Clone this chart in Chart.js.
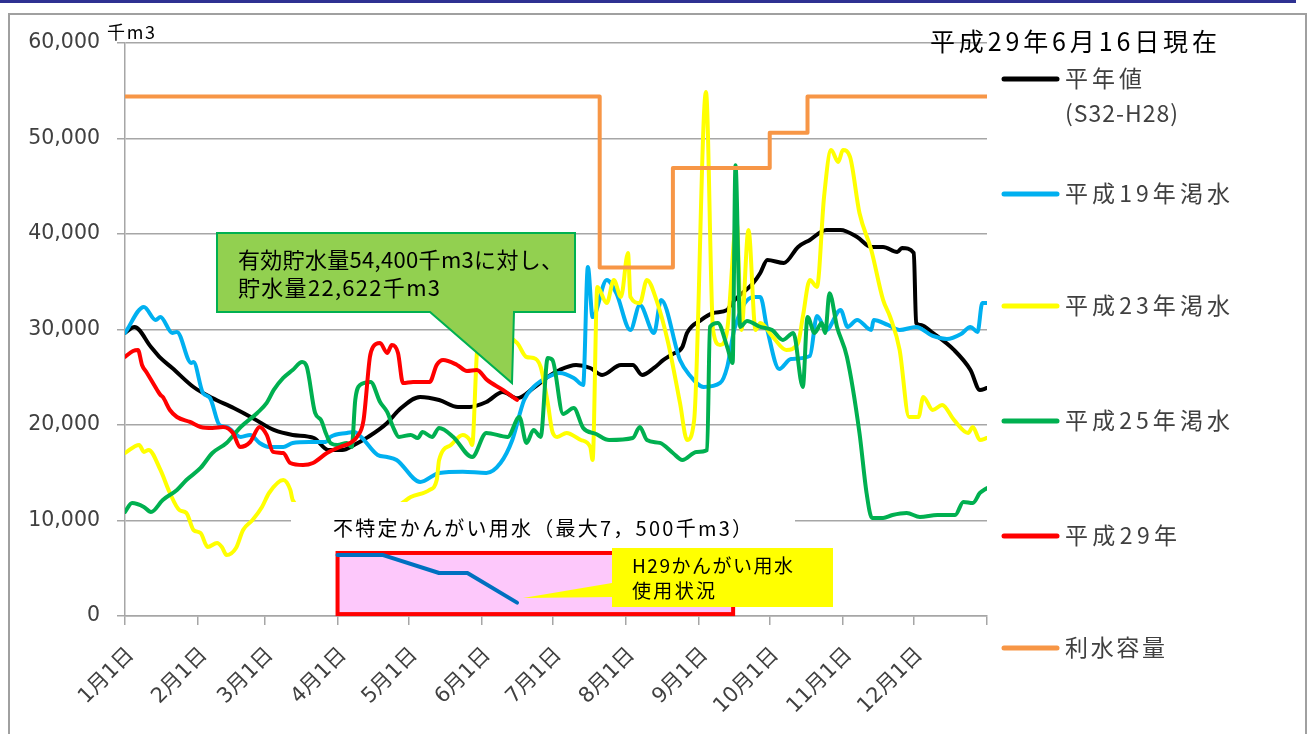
<!DOCTYPE html>
<html>
<head>
<meta charset="utf-8">
<script src="https://cdn.jsdelivr.net/npm/chart.js@4.4.1/dist/chart.umd.min.js"></script>
<style>
html, body { margin: 0; padding: 0; background: #fff; }
#chart { display: block; }
</style>
</head>
<body>
<canvas id="chart" width="1309" height="734"></canvas>
<script>
// x = day of year (0 = 1月1日), y = 千m3
const monthDays = [0, 31, 59, 90, 120, 151, 181, 212, 243, 273, 304, 334, 365];
const monthLabels = ['1月1日', '2月1日', '3月1日', '4月1日', '5月1日', '6月1日', '7月1日', '8月1日', '9月1日', '10月1日', '11月1日', '12月1日', ''];

const seriesNames = ['平年値', '平成19年渇水', '平成23年渇水', '平成25年渇水', '平成29年', '利水容量'];
const seriesColors = ['#000000', '#00b0f0', '#ffff00', '#00b050', '#ff0000', '#f79646'];

// 平年値 (S32-H28)
const avgDays = [0,4,11,15,20,29,37,46,54,63,71,80,86,92,97,103,111,116,125,133,141,146,153,160,166,173,179,184,191,197,202,210,215,219,224,228,232,236,238,244,249,255,257,266,269,272,279,285,290,297,303,310,316,321,327,329,334,335,337,342,351,358,362,365];
const avgVals = [29640,30270,28170,27020,25970,23980,22830,21780,20740,19480,18960,18640,17390,17390,17910,18750,20210,21570,22940,22620,21890,21890,22410,23460,22800,23880,25030,25760,26290,25970,25240,26290,26290,25240,25970,26810,27440,28170,29640,31000,31730,32050,32780,34870,35920,37280,36970,38650,39380,40430,40430,39690,38650,38650,38120,38540,38020,30690,30480,29640,27860,25760,23670,23880];

// 平成19年渇水
const h19Days = [0,8,13,15,20,22,28,29,33,36,40,43,49,53,57,61,67,71,78,85,87,94,97,100,107,111,115,125,133,143,153,159,164,169,173,179,184,190,194,196,198,204,208,214,218,224,227,235,239,245,252,255,258,266,269,272,277,282,290,293,297,303,306,310,316,317,323,328,335,342,348,354,358,361,363,365];
const h19Vals = [29640,32360,31000,31310,29640,29740,26500,26600,23350,22830,20000,19790,18750,18960,18120,17700,17700,18120,18220,18220,18750,19170,19270,18750,16860,16650,16340,14030,14980,15100,14980,16020,18430,22620,23980,25030,25450,24930,24190,36550,31300,35190,33830,29950,32570,29640,33100,26810,25240,23980,24400,26080,30000,33400,33410,29950,25870,26920,27230,31420,29950,32050,30270,31000,29950,31000,30480,29950,30270,29320,29010,29530,30270,29740,32780,32780];

// 平成23年渇水
const h23Days = [0,6,8,10,15,19,23,26,29,32,35,39,41,43,47,50,54,58,61,67,70,71,85,110,118,121,129,132,133,138,143,146,147,149,150,160,166,170,173,176,179,181,183,187,193,197,198,200,204,207,210,213,214,218,221,225,230,235,238,241,246,249,252,255,259,261,264,267,269,274,280,285,287,290,293,296,299,302,304,307,311,316,321,324,328,332,336,338,342,346,351,357,359,362,365];
const h23Vals = [17070,17910,17180,17390,15290,12880,11100,10790,9010,8690,7230,7650,7230,6390,7120,9010,10050,11420,12880,14240,13200,12150,10000,10500,11940,12460,13200,14240,16340,17910,18960,18430,17910,27540,29400,29400,28590,27120,27020,26080,22310,19270,18750,19170,18430,17700,16340,34460,32780,35190,33410,38020,33410,32780,35190,33100,28590,22310,18430,20530,54880,29950,28380,29950,41260,29950,40430,29950,30690,29320,27860,28590,31310,35190,34460,43880,48800,47550,48800,48070,42200,38330,33100,31310,27860,20840,20840,22940,21570,22100,20530,19170,19790,18430,18640];

// 平成25年渇水
const h25Days = [0,3,8,11,16,22,26,32,37,43,49,56,60,63,67,71,75,77,80.5,83,85,87,90,94,96,97.5,99.5,104,108,111,113.5,116,121,124,126,130,133,139,147,153,162,167,170,173,176,179,181,185.5,190,194,199.5,205,215,218,221,226.5,232,236,242,246.5,247.7,251,255,257.3,258.5,260.5,263.4,269,274,278.6,283,287,289,292,295,296.5,298.3,301.5,305.7,311,314,316.3,321,325,331,336.6,344,351.5,355,359,362,365];
const h25Vals = [10890,11830,11420,10890,12150,13200,14240,15500,17070,18120,19790,21260,22310,23670,24930,25760,26600,26080,21260,20530,19170,18120,17910,18120,17700,22620,24190,24510,22410,21370,19790,18750,18960,18640,19270,18750,19690,18750,16650,19170,18750,20840,18120,19480,18750,27020,26810,21160,21780,19690,19060,18430,18640,19790,18430,18120,17070,16340,17180,17390,30270,30690,28170,26500,47200,30270,30900,30270,29950,28910,29640,23980,31310,29640,30690,29640,33800,30270,27120,19170,12880,10260,10260,10580,10790,10370,10580,10580,11940,11830,12880,13400];

// 平成29年 (6月16日まで)
const h29Days = [0,3.4,5.5,7.2,9.3,13.6,15,16,19,22,27.5,32,37,41.5,45.7,48.7,53,57,60,62.7,67,70,75.4,79.6,85.5,91,95.3,98.2,101,103.7,105,108,111,113,115.6,117.7,122,129,132,134.7,140.6,144.8,149,153.3,160,166];
const h29Vals = [27120,27750,27860,26290,25450,23670,23150,22940,21570,20840,20320,19790,19690,19790,19170,17700,18220,19790,18960,17180,17070,16020,15810,16020,17070,17700,18120,18750,20500,27120,28170,28590,27540,28380,27540,24400,24510,24510,26290,26810,26290,25660,25760,24720,23670,22622];

// 利水容量 (step changes)
const capDays = [0, 201, 232, 273, 289, 365];
const capVals = [54400, 36500, 46900, 50600, 54400, 54400];

// H29かんがい用水 使用状況 (drawn inside the inset box, main-axis units)
const irrDays = [90, 109, 133, 145, 166];
const irrVals = [6400, 6400, 4500, 4500, 1400];

// inset box for 不特定かんがい用水
const irrBoxStart = 90, irrBoxEnd = 257.5, irrBoxTop = 6600, irrBoxBottom = 200;

const FONT_JP = "'Noto Sans CJK JP', 'DejaVu Sans', sans-serif";
const FONT_NUM = "'DejaVu Sans', 'Noto Sans CJK JP', sans-serif";

function pts(days, vals) {
  return days.map((d, i) => ({ x: d, y: vals[i] }));
}

function spacedText(ctx, text, x, y, size, width, color) {
  ctx.save();
  ctx.font = size + 'px ' + FONT_JP;
  ctx.textBaseline = 'middle';
  ctx.textAlign = 'left';
  const n = Array.from(text).length;
  const w = ctx.measureText(text).width;
  const sp = n > 1 ? Math.max(0, (width - w) / (n - 1)) : 0;
  ctx.letterSpacing = sp.toFixed(2) + 'px';
  ctx.fillStyle = color;
  ctx.fillText(text, x, y);
  ctx.restore();
}

const framePlugin = {
  id: 'frame',
  beforeDraw(chart) {
    const ctx = chart.ctx;
    ctx.save();
    ctx.fillStyle = '#fff';
    ctx.fillRect(0, 0, chart.width, chart.height);
    ctx.fillStyle = '#2e3192';
    ctx.fillRect(0, 0, 1296, 3);
    ctx.strokeStyle = '#a0a0a0';
    ctx.lineWidth = 2;
    ctx.strokeRect(9, 14, 1297, 740);
    ctx.restore();
  }
};

const insetPlugin = {
  id: 'inset',
  beforeDatasetsDraw(chart) {
    const ctx = chart.ctx, xs = chart.scales.x, ys = chart.scales.y;
    const x0 = xs.getPixelForValue(irrBoxStart), x1 = xs.getPixelForValue(irrBoxEnd);
    const y0 = ys.getPixelForValue(irrBoxTop), y1 = ys.getPixelForValue(irrBoxBottom);
    ctx.save();
    ctx.fillStyle = '#fdc8fb';
    ctx.fillRect(x0, y0, x1 - x0, y1 - y0);
    ctx.strokeStyle = '#ff0000';
    ctx.lineWidth = 4;
    ctx.strokeRect(x0, y0, x1 - x0, y1 - y0);
    ctx.restore();
  }
};

const notesPlugin = {
  id: 'notes',
  afterDatasetsDraw(chart) {
    const ctx = chart.ctx;
    ctx.save();
    // label strip over the lower part of the plot
    ctx.fillStyle = '#fff';
    ctx.fillRect(291, 502, 504, 44);
    spacedText(ctx, '不特定かんがい用水（最大7，500千m3）', 333, 528, 20, 419, '#000');

    // green callout
    ctx.beginPath();
    ctx.moveTo(217, 233);
    ctx.lineTo(575, 233);
    ctx.lineTo(575, 312);
    ctx.lineTo(514, 312);
    ctx.lineTo(512, 383);
    ctx.lineTo(430, 312);
    ctx.lineTo(217, 312);
    ctx.closePath();
    ctx.fillStyle = '#92d050';
    ctx.fill();
    ctx.strokeStyle = '#00b050';
    ctx.lineWidth = 2;
    ctx.stroke();
    spacedText(ctx, '有効貯水量54,400千m3に対し、', 238, 260, 22, 325, '#000');
    spacedText(ctx, '貯水量22,622千m3', 238, 288, 22, 202, '#000');

    // yellow callout
    ctx.beginPath();
    ctx.moveTo(612, 583);
    ctx.lineTo(523, 598);
    ctx.lineTo(612, 597);
    ctx.closePath();
    ctx.fillStyle = '#ffff00';
    ctx.fill();
    ctx.fillRect(612, 548, 221, 59);
    spacedText(ctx, 'H29かんがい用水', 632, 566, 19, 161, '#000');
    spacedText(ctx, '使用状況', 632, 591, 19, 83, '#000');

    // unit + title
    spacedText(ctx, '千m3', 107, 32, 18, 48, '#000');
    spacedText(ctx, '平成29年6月16日現在', 930, 41, 25, 287, '#000');

    // legend
    const legY = [78, 193, 305, 420, 535, 647];
    const legW = [77, 165, 165, 165, 112, 100];
    legY.forEach((y, i) => {
      ctx.beginPath();
      ctx.moveTo(1004, y + 1);
      ctx.lineTo(1057, y + 1);
      ctx.strokeStyle = seriesColors[i];
      ctx.lineWidth = 5;
      ctx.lineCap = 'round';
      ctx.stroke();
      spacedText(ctx, seriesNames[i], 1065, y, 23, legW[i], '#404040');
    });
    spacedText(ctx, '(S32-H28)', 1065, 113, 23, 113, '#404040');
    ctx.restore();
  }
};

const lineStyle = {
  borderWidth: 4,
  pointRadius: 0,
  fill: false,
  cubicInterpolationMode: 'monotone',
  borderJoinStyle: 'round',
  borderCapStyle: 'round'
};

const datasets = [
  Object.assign({}, lineStyle, { label: seriesNames[5], data: pts(capDays, capVals), borderColor: seriesColors[5], stepped: true, order: 0 }),
  Object.assign({}, lineStyle, { label: seriesNames[4], data: pts(h29Days, h29Vals), borderColor: seriesColors[4], order: 1 }),
  Object.assign({}, lineStyle, { label: seriesNames[3], data: pts(h25Days, h25Vals), borderColor: seriesColors[3], order: 2 }),
  Object.assign({}, lineStyle, { label: seriesNames[2], data: pts(h23Days, h23Vals), borderColor: seriesColors[2], order: 3 }),
  Object.assign({}, lineStyle, { label: seriesNames[1], data: pts(h19Days, h19Vals), borderColor: seriesColors[1], order: 4 }),
  Object.assign({}, lineStyle, { label: seriesNames[0], data: pts(avgDays, avgVals), borderColor: seriesColors[0], order: 5 }),
  Object.assign({}, lineStyle, { label: 'H29かんがい用水', data: pts(irrDays, irrVals), borderColor: '#0070c0', cubicInterpolationMode: 'default', tension: 0, order: 6 })
];

const ctx = document.getElementById('chart').getContext('2d');
new Chart(ctx, {
  type: 'line',
  data: { datasets: datasets },
  plugins: [framePlugin, insetPlugin, notesPlugin],
  options: {
    responsive: false,
    animation: false,
    events: [],
    layout: { padding: { left: 0, top: 43, right: 322, bottom: 0 } },
    plugins: { legend: { display: false }, tooltip: { enabled: false } },
    scales: {
      x: {
        type: 'linear',
        min: 0,
        max: 365,
        afterBuildTicks: axis => { axis.ticks = monthDays.map(v => ({ value: v })); },
        afterFit: axis => { axis.height = 118; },
        ticks: {
          autoSkip: false,
          maxRotation: 45,
          minRotation: 45,
          padding: 18,
          labelOffset: 6,
          color: '#404040',
          font: { family: FONT_NUM, size: 21 },
          callback: v => monthLabels[monthDays.indexOf(v)]
        },
        grid: { drawOnChartArea: false, drawTicks: true, tickLength: 9, color: '#a6a6a6', lineWidth: 1.5 },
        border: { color: '#a6a6a6', width: 1.5 }
      },
      y: {
        min: 0,
        max: 60000,
        afterFit: axis => { axis.width = 125; },
        ticks: {
          stepSize: 10000,
          padding: 17,
          color: '#404040',
          font: { family: FONT_NUM, size: 20.5 },
          callback: v => v.toLocaleString('en-US')
        },
        grid: { color: '#a6a6a6', lineWidth: 1.5, tickLength: 8 },
        border: { color: '#a6a6a6', width: 1.5 }
      }
    }
  }
});
</script>
</body>
</html>
